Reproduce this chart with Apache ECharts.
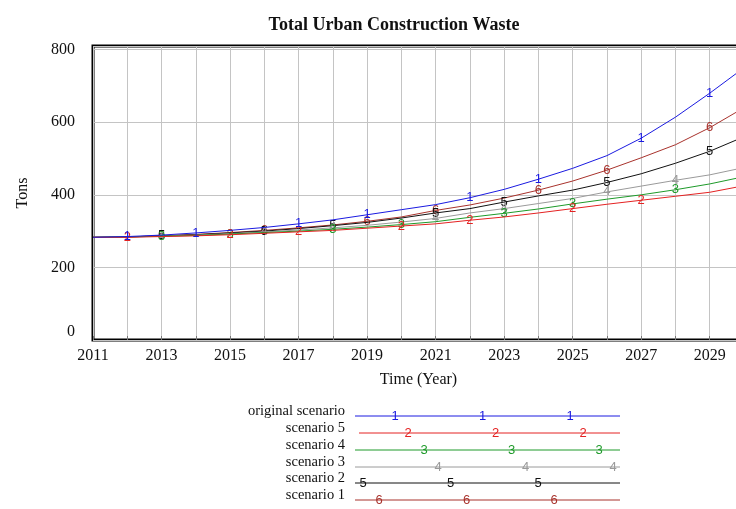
<!DOCTYPE html>
<html>
<head>
<meta charset="utf-8">
<title>Total Urban Construction Waste</title>
<script src="https://cdn.jsdelivr.net/npm/echarts@6/dist/echarts.min.js"></script>
<style>
  html, body { margin: 0; padding: 0; background: #fff; }
  #chart { width: 736px; height: 509px; }
</style>
</head>
<body>
<div id="chart"></div>
<script>
// years simulated (yearly steps)
const years = [2011, 2012, 2013, 2014, 2015, 2016, 2017, 2018, 2019, 2020,
               2021, 2022, 2023, 2024, 2025, 2026, 2027, 2028, 2029, 2030];

// tons
const originalScenario = [283, 285, 289, 295, 302, 310, 320, 331, 345, 359, 373, 392, 415, 443, 473, 508, 556, 614, 680, 750];
const scenario5 = [283, 283, 285, 287, 290, 294, 298, 302, 308, 314, 320, 330, 339, 350, 362, 374, 385, 396, 407, 425];
const scenario4 = [283, 284, 286, 288, 292, 296, 300, 305, 311, 318, 326, 338, 349, 361, 375, 388, 400, 414, 430, 450];
const scenario3 = [283, 284, 286, 289, 293, 298, 303, 309, 316, 325, 335, 350, 362, 376, 390, 408, 424, 440, 455, 475];
const scenario2 = [283, 284, 287, 290, 295, 300, 307, 315, 324, 336, 350, 362, 380, 397, 413, 434, 458, 487, 520, 560];
const scenario1 = [283, 284, 287, 291, 296, 302, 309, 317, 327, 339, 357, 372, 391, 413, 438, 468, 502, 538, 585, 640];

// years where the line number is written on each curve
const marks1 = [2012, 2014, 2017, 2019, 2022, 2024, 2027, 2029];
const marks2 = [2012, 2015, 2017, 2020, 2022, 2025, 2027];
const marks3 = [2013, 2015, 2018, 2020, 2023, 2025, 2028];
const marks4 = [2013, 2016, 2018, 2021, 2023, 2026, 2028];
const marks5 = [2013, 2016, 2018, 2021, 2023, 2026, 2029];
const marks6 = [2013, 2016, 2019, 2021, 2024, 2026, 2029];

const names = ['original scenario', 'scenario 5', 'scenario 4', 'scenario 3', 'scenario 2', 'scenario 1'];
const colors = ['#1a1ae0', '#e42222', '#1e9a2a', '#9a9a9a', '#111111', '#a8322c'];
const values = [originalScenario, scenario5, scenario4, scenario3, scenario2, scenario1];
const marks = [marks1, marks2, marks3, marks4, marks5, marks6];

const serif = '"Liberation Serif", "DejaVu Serif", serif';
const sans = '"Liberation Sans", Arial, sans-serif';

const series = names.map((name, i) => ({
  name: name,
  type: 'line',
  symbol: 'circle',
  symbolSize: 0,
  showSymbol: true,
  showAllSymbol: true,
  z: 10 - i,
  lineStyle: { color: colors[i], width: 1 },
  itemStyle: { color: colors[i] },
  label: { show: false, position: 'inside', formatter: String(i + 1), color: colors[i], fontFamily: sans, fontSize: 13 },
  emphasis: { disabled: true },
  data: years.map((y, k) => marks[i].includes(y)
    ? { value: [y, values[i][k]], label: { show: true } }
    : [y, values[i][k]])
}));

// legend block under the chart (drawn by hand, like the original tool does)
const legendTextRight = 345;
const legendRowY = [416, 433, 450, 467, 483, 500];
const legendLineStart = [355, 359, 355, 355, 355, 355];
const legendLineEnd = 620;
const legendFirstMark = [395, 408, 424, 438, 363, 379];
const legendMarkStep = 87.5;

const graphic = [];
names.forEach((name, i) => {
  graphic.push({
    type: 'text', x: legendTextRight, y: legendRowY[i] - 5,
    style: { text: name, font: '14.5px ' + serif, fill: '#111', align: 'right', verticalAlign: 'middle' }
  });
  graphic.push({
    type: 'line',
    shape: { x1: legendLineStart[i], y1: legendRowY[i], x2: legendLineEnd, y2: legendRowY[i] },
    style: { stroke: colors[i], lineWidth: 1 }
  });
  for (let k = 0; k < 3; k++) {
    graphic.push({
      type: 'text', x: legendFirstMark[i] + k * legendMarkStep, y: legendRowY[i],
      style: { text: String(i + 1), font: '13px ' + sans, fill: colors[i], align: 'center', verticalAlign: 'middle' }
    });
  }
});

const chart = echarts.init(document.getElementById('chart'), null, { renderer: 'canvas' });
chart.setOption({
  animation: false,
  title: {
    text: 'Total Urban Construction Waste',
    left: 389, top: 11, textAlign: 'center',
    textStyle: { fontFamily: serif, fontWeight: 'bold', fontSize: 18, color: '#111' }
  },
  grid: {
    left: 93, right: -8, top: 46, bottom: 169,
    outerBoundsMode: 'none',
    show: true, borderColor: '#000', borderWidth: 3, backgroundColor: 'transparent'
  },
  xAxis: {
    type: 'value',
    min: 2011, max: 2030, interval: 1,
    name: 'Time (Year)', nameLocation: 'middle', nameGap: 32,
    nameTextStyle: { fontFamily: serif, fontSize: 16, color: '#111' },
    axisLine: { show: false },
    axisTick: { show: true, inside: true, length: 4, lineStyle: { color: '#777' } },
    axisLabel: {
      fontFamily: serif, fontSize: 16, color: '#111', margin: 8,
      formatter: v => ((v - 2011) % 2 === 0 ? String(v) : '')
    },
    splitLine: { show: true, lineStyle: { color: '#c4c4c4', width: 1 } }
  },
  yAxis: {
    type: 'value',
    min: 0, max: 810, interval: 200,
    name: 'Tons', nameLocation: 'middle', nameGap: 62, nameRotate: 90,
    nameTextStyle: { fontFamily: serif, fontSize: 16, color: '#111' },
    axisLine: { show: false },
    axisTick: { show: false },
    axisLabel: {
      fontFamily: serif, fontSize: 16, color: '#111', margin: 18,
      verticalAlignMinLabel: 'bottom', verticalAlignMaxLabel: 'top'
    },
    splitLine: { show: true, lineStyle: { color: '#c4c4c4', width: 1 } }
  },
  graphic: graphic,
  series: series
});
</script>
</body>
</html>
